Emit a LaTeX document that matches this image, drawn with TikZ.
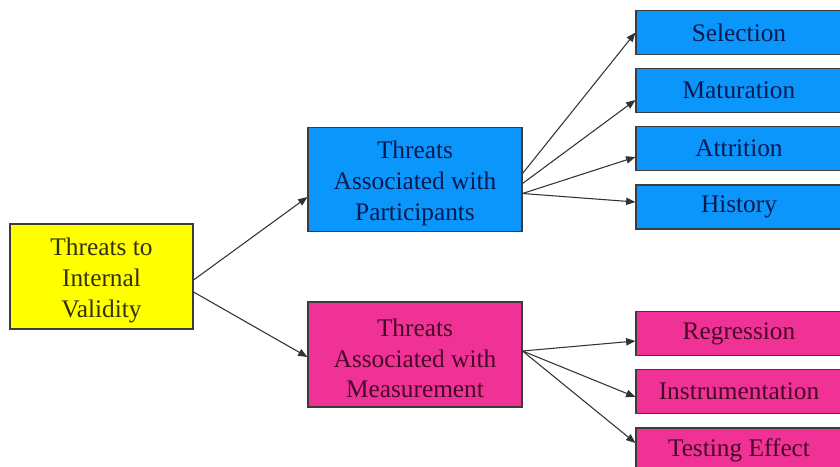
\documentclass[tikz,border=0pt]{standalone}
\usepackage{fontspec}
\setmainfont{Liberation Serif}
\usetikzlibrary{arrows.meta,calc}
\definecolor{bblue}{RGB}{10,150,250}
\definecolor{bpink}{RGB}{240,50,150}
\definecolor{byel}{RGB}{255,255,0}
\definecolor{tblue}{RGB}{10,25,80}
\definecolor{tpink}{RGB}{70,10,40}
\definecolor{tyel}{RGB}{50,50,10}
\definecolor{edge}{RGB}{60,60,60}
\tikzset{
  box/.style={draw=edge, line width=0.8pt, rectangle, inner sep=0pt, align=center,
    font=\fontsize{19}{23}\selectfont},
  bluebox/.style={box, fill=bblue, text=tblue},
  pinkbox/.style={box, fill=bpink, text=tpink},
  yelbox/.style={box, fill=byel, text=tyel},
  leaf/.style={minimum width=154.5pt, minimum height=33pt},
  arr/.style={draw=black!80, line width=0.8pt, -{Triangle[length=7pt,width=5.5pt]}}
}
\begin{document}
\begin{tikzpicture}[x=0.75pt,y=-0.75pt]
\useasboundingbox[clip] (0,0) rectangle (840,467);
\fill[white] (0,0) rectangle (840,467);
\node[yelbox, minimum width=137.25pt, minimum height=78.75pt] (yel) at (101.5,276.5) {\rule{0pt}{19pt}Threats to\\Internal\\Validity};
\node[bluebox, minimum width=160.5pt, minimum height=78pt] (part) at (415,179.5) {\rule{0pt}{19pt}Threats\\Associated with\\Participants};
\node[pinkbox, minimum width=160.5pt, minimum height=78.75pt] (meas) at (415,354.5) {\rule{0pt}{19pt}Threats\\Associated with\\Measurement};
\node[bluebox, leaf] (sel) at (739,32.5) {Selection};
\node[bluebox, leaf] (mat) at (739,90.5) {Maturation};
\node[bluebox, leaf] (att) at (739,148.5) {Attrition};
\node[bluebox, leaf] (his) at (739,207) {History};
\node[pinkbox, leaf] (reg) at (739,333.5) {Regression};
\node[pinkbox, leaf] (ins) at (739,391.5) {Instrumentation};
\node[pinkbox, leaf] (tes) at (739,450) {Testing Effect};
\draw[arr] ($(yel.east)+(0,3.5)$) -- ($(part.west)+(0,17.5)$);
\draw[arr] ($(yel.east)+(0,15.5)$) -- ($(meas.west)+(0,2.5)$);
\draw[arr] ($(part.east)+(0,-6)$) -- ($(sel.west)+(0,0)$);
\draw[arr] ($(part.east)+(0,4)$) -- ($(mat.west)+(0,9.5)$);
\draw[arr] ($(part.east)+(0,14)$) -- ($(att.west)+(0,8.5)$);
\draw[arr] ($(part.east)+(0,14)$) -- ($(his.west)+(0,-5)$);
\draw[arr] ($(meas.east)+(0,-3.5)$) -- ($(reg.west)+(0,7.5)$);
\draw[arr] ($(meas.east)+(0,-3.5)$) -- ($(ins.west)+(0,5.5)$);
\draw[arr] ($(meas.east)+(0,-3.5)$) -- ($(tes.west)+(0,-7)$);
\end{tikzpicture}
\end{document}
